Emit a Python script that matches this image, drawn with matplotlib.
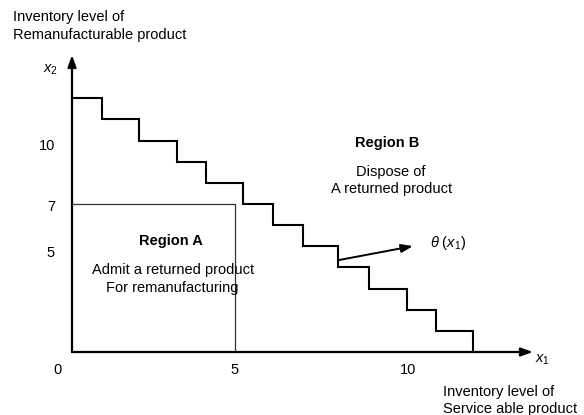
import numpy as np
import matplotlib.pyplot as plt

plt.rcParams['font.family'] = ['Liberation Sans', 'DejaVu Sans']
plt.rcParams['mathtext.fontset'] = 'custom'
plt.rcParams['mathtext.rm'] = 'Liberation Sans'
plt.rcParams['mathtext.it'] = 'Liberation Sans:italic'

# 阶梯边界 theta(x1)：每个台阶的右端点与高度
step_right = [0.92, 2.07, 3.21, 4.11, 5.25, 6.17, 7.08, 8.17, 9.11, 10.28, 11.17, 12.3]
step_level = [12, 11, 10, 9, 8, 7, 6, 5, 4, 3, 2, 1]

# Region A 的矩形边界
box_x = 5
box_y = 7

# 坐标轴刻度标签
x_tick_pos = [-0.46, 5, 10.31]
x_tick_labels = ['0', '5', '10']
y_tick_pos = [9.74, 6.86, 4.68]
y_tick_labels = ['10', '7', '5']

fig = plt.figure(figsize=(5.84, 4.15), dpi=100)
ax = fig.add_axes([0, 0, 1, 1])
ax.set_xlim(-2.209, 15.706)
ax.set_ylim(-2.980, 16.651)
ax.axis('off')

# 阶梯线
xs = [0]
ys = [step_level[0]]
for i, (r, lv) in enumerate(zip(step_right, step_level)):
    xs.append(r)
    ys.append(lv)
    nxt = step_level[i + 1] if i + 1 < len(step_level) else 0
    xs.append(r)
    ys.append(nxt)
ax.plot(xs, ys, color='black', lw=1.5, solid_joinstyle='miter')

# Region A 矩形
ax.plot([0, box_x, box_x], [box_y, box_y, 0], color='#333333', lw=0.9)

# 坐标轴箭头
ax.annotate('', xy=(14.14, 0), xytext=(0, 0),
            arrowprops=dict(arrowstyle='-|>,head_length=0.7,head_width=0.25', color='black', lw=1.6,
                            shrinkA=0, shrinkB=0))
ax.annotate('', xy=(0, 14.05), xytext=(0, 0),
            arrowprops=dict(arrowstyle='-|>,head_length=0.7,head_width=0.25', color='black', lw=1.6,
                            shrinkA=0, shrinkB=0))
# theta 指示箭头
ax.annotate('', xy=(10.46, 5.01), xytext=(8.19, 4.35),
            arrowprops=dict(arrowstyle='-|>,head_length=0.7,head_width=0.25', color='black', lw=1.4,
                            shrinkA=0, shrinkB=0))

fs = 10.5
for p, t in zip(x_tick_pos, x_tick_labels):
    ax.text(p, -0.85, t, ha='center', va='center', fontsize=fs)
for p, t in zip(y_tick_pos, y_tick_labels):
    ax.text(-0.52, p, t, ha='right', va='center', fontsize=fs)

ax.text(-0.67, 13.35, '$x_2$', ha='center', va='center', fontsize=fs)
ax.text(14.42, -0.38, '$x_1$', ha='center', va='center', fontsize=fs)
ax.text(10.98, 5.16, r'$\theta\ (x_1)$', ha='left', va='center', fontsize=fs)

# 轴说明文字
ax.text(-1.82, 15.66, 'Inventory level of', ha='left', va='baseline', fontsize=fs)
ax.text(-1.82, 14.80, 'Remanufacturable product', ha='left', va='baseline', fontsize=fs)
ax.text(11.39, -2.07, 'Inventory level of', ha='left', va='baseline', fontsize=fs)
ax.text(11.39, -2.90, 'Service able product', ha='left', va='baseline', fontsize=fs)

ax.text(9.66, 9.89, 'Region B', ha='center', va='center', fontsize=fs, fontweight='bold')
ax.text(9.79, 8.1, 'Dispose of\nA returned product', ha='center', va='center',
        fontsize=fs, linespacing=1.3)
ax.text(3.04, 5.25, 'Region A', ha='center', va='center', fontsize=fs, fontweight='bold')
ax.text(3.09, 3.45, 'Admit a returned product\nFor remanufacturing', ha='center', va='center',
        fontsize=fs, linespacing=1.3)

plt.savefig('out.png', dpi=100)
